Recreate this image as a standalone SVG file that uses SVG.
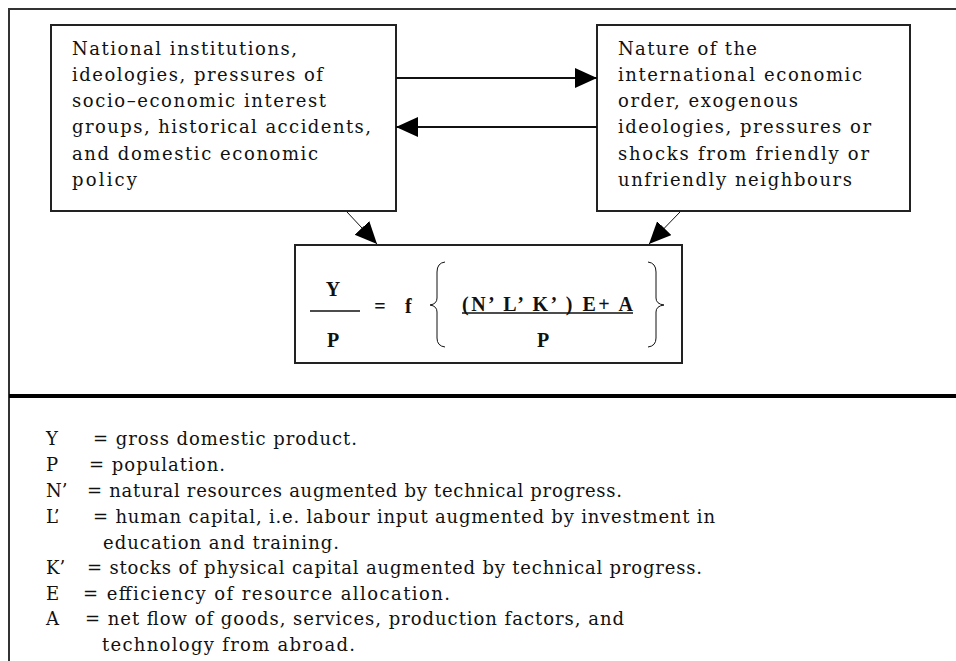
<svg xmlns="http://www.w3.org/2000/svg" width="956" height="661" viewBox="0 0 956 661">
<style>
.box{fill:#fff;stroke:#222;stroke-width:2}
.t{font-family:"DejaVu Serif","Liberation Serif",serif;font-size:18px;fill:#111}
.f{font-family:"Liberation Serif","Times New Roman",serif;font-size:20px;font-weight:bold;fill:#111}
.c{stroke:#111;fill:none}
</style>
<defs>
<marker id="ah" markerUnits="userSpaceOnUse" markerWidth="23" markerHeight="21" refX="22" refY="10" orient="auto">
<path d="M0,0 L22,10 L0,20 z" fill="#000"/>
</marker>
</defs>
<rect width="956" height="661" fill="#fff"/>
<g id="frame">
<line x1="9" y1="9" x2="956" y2="9" stroke="#333" stroke-width="2"/>
<line x1="9" y1="8" x2="9" y2="661" stroke="#333" stroke-width="2"/>
<line x1="9" y1="396" x2="956" y2="396" stroke="#000" stroke-width="4"/>
</g>
<g id="node-domestic">
<rect class="box" x="51" y="25" width="345" height="186"/>
<text class="t" x="72" y="55" textLength="225" lengthAdjust="spacing">National institutions,</text>
<text class="t" x="72" y="81" textLength="251" lengthAdjust="spacing">ideologies, pressures of</text>
<text class="t" x="72" y="107" textLength="254" lengthAdjust="spacing">socio–economic interest</text>
<text class="t" x="72" y="133" textLength="299" lengthAdjust="spacing">groups, historical accidents,</text>
<text class="t" x="72" y="160" textLength="246" lengthAdjust="spacing">and domestic economic</text>
<text class="t" x="72" y="186" textLength="65" lengthAdjust="spacing">policy</text>
</g>
<g id="node-international">
<rect class="box" x="597" y="25" width="313" height="186"/>
<text class="t" x="618" y="55" textLength="139" lengthAdjust="spacing">Nature of the</text>
<text class="t" x="618" y="81" textLength="244" lengthAdjust="spacing">international economic</text>
<text class="t" x="618" y="107" textLength="180" lengthAdjust="spacing">order, exogenous</text>
<text class="t" x="618" y="133" textLength="253" lengthAdjust="spacing">ideologies, pressures or</text>
<text class="t" x="618" y="160" textLength="251" lengthAdjust="spacing">shocks from friendly or</text>
<text class="t" x="618" y="186" textLength="234" lengthAdjust="spacing">unfriendly neighbours</text>
</g>
<g id="node-formula">
<rect class="box" x="295" y="245" width="387" height="118"/>
<text class="f" x="333" y="296" text-anchor="middle">Y</text>
<line x1="310" y1="311" x2="360" y2="311" stroke="#111" stroke-width="1.5"/>
<text class="f" x="333" y="347" text-anchor="middle">P</text>
<text class="f" x="380" y="313" text-anchor="middle">=</text>
<text class="f" x="405" y="313">f</text>
<path class="c" d="M445,262 Q437,263 437,272 L437,298 Q437,304 430,305 Q437,306 437,312 L437,338 Q437,346 445,347"/>
<text class="f" x="462" y="311" textLength="171" lengthAdjust="spacing">(N’ L’ K’ ) E+ A</text>
<line x1="462" y1="313" x2="633" y2="313" stroke="#111" stroke-width="1.5"/>
<text class="f" x="543" y="347" text-anchor="middle">P</text>
<path class="c" d="M648,262 Q656,263 656,272 L656,298 Q656,304 664,305 Q656,306 656,312 L656,338 Q656,346 648,347"/>
</g>
<g id="connectors">
<line class="c" x1="396" y1="78" x2="597" y2="78" stroke-width="2" marker-end="url(#ah)"/>
<line class="c" x1="597" y1="127" x2="396" y2="127" stroke-width="2" marker-end="url(#ah)"/>
<line class="c" x1="347" y1="212" x2="377" y2="244" stroke-width="1" marker-end="url(#ah)"/>
<line class="c" x1="680" y1="212" x2="649" y2="244" stroke-width="1" marker-end="url(#ah)"/>
</g>
<g id="legend">
<text class="t" x="46" y="445">Y</text>
<text class="t" x="93" y="445" textLength="264" lengthAdjust="spacing">= gross domestic product.</text>
<text class="t" x="46" y="471">P</text>
<text class="t" x="89" y="471" textLength="136" lengthAdjust="spacing">= population.</text>
<text class="t" x="46" y="497">N’</text>
<text class="t" x="87" y="497" textLength="535" lengthAdjust="spacing">= natural resources augmented by technical progress.</text>
<text class="t" x="46" y="523">L’</text>
<text class="t" x="93" y="523" textLength="622" lengthAdjust="spacing">= human capital, i.e. labour input augmented by investment in</text>
<text class="t" x="103" y="549" textLength="236" lengthAdjust="spacing">education and training.</text>
<text class="t" x="46" y="574">K’</text>
<text class="t" x="87" y="574" textLength="615" lengthAdjust="spacing">= stocks of physical capital augmented by technical progress.</text>
<text class="t" x="46" y="600">E</text>
<text class="t" x="83" y="600" textLength="367" lengthAdjust="spacing">= efficiency of resource allocation.</text>
<text class="t" x="46" y="625">A</text>
<text class="t" x="85" y="625" textLength="539" lengthAdjust="spacing">= net flow of goods, services, production factors, and</text>
<text class="t" x="102" y="651" textLength="253" lengthAdjust="spacing">technology from abroad.</text>
</g>
</svg>
